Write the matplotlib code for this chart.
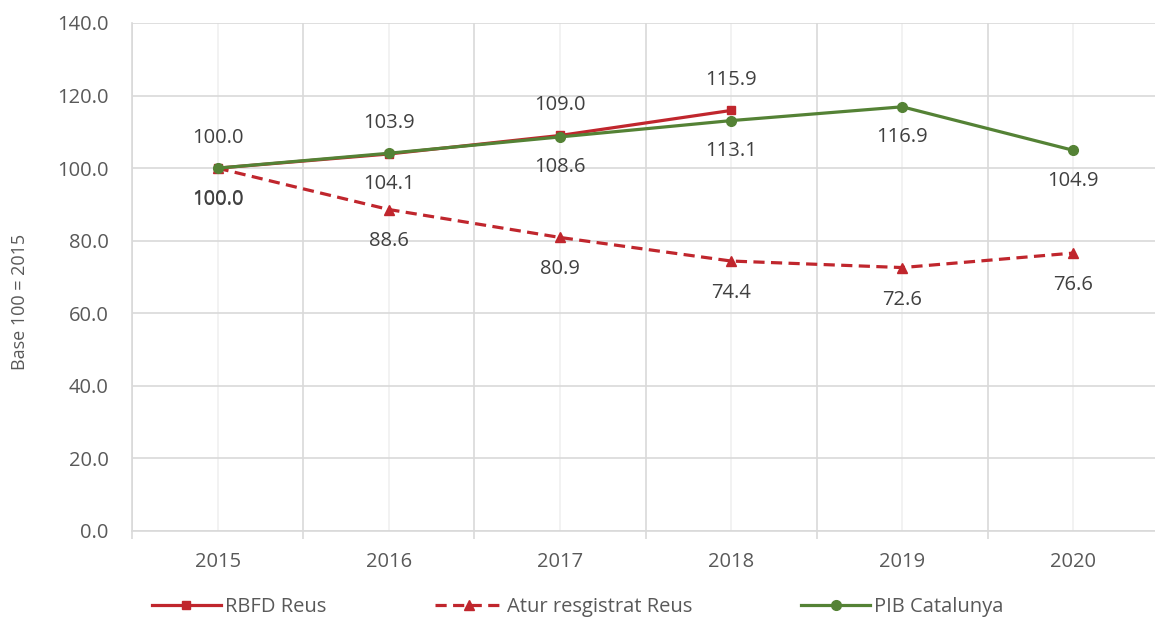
import numpy as np
import matplotlib
matplotlib.use('Agg')
import matplotlib.pyplot as plt

plt.rcParams['font.family'] = ['Open Sans', 'DejaVu Sans']

# data
years = ['2015', '2016', '2017', '2018', '2019', '2020']
rbfd = [100.0, 103.9, 109.0, 115.9]
atur = [100.0, 88.6, 80.9, 74.4, 72.6, 76.6]
pib = [100.0, 104.1, 108.6, 113.1, 116.9, 104.9]

red = '#C0262D'
green = '#548235'
txt = '#595959'

fig = plt.figure(figsize=(11.55, 6.18), dpi=100)
# plot area runs slightly past the right edge of the picture, as in the reference
ax = fig.add_axes([132 / 1155, 87 / 618, 1027 / 1155, 508 / 618])

x_all = np.arange(len(years))
ax.plot(x_all[:len(rbfd)], rbfd, color=red, lw=2.3, marker='s', ms=6,
        label='RBFD Reus', zorder=4)
ax.plot(x_all, atur, color=red, lw=2.3, marker='^', ms=7.5, dashes=(3.5, 2),
        label='Atur resgistrat Reus', zorder=4)
ax.plot(x_all, pib, color=green, lw=2.3, marker='o', ms=7,
        label='PIB Catalunya', zorder=5)

# data labels (2015 labels of Atur and PIB sit on top of each other, as in the original)
for i, v in enumerate(rbfd):
    ax.annotate(f'{v:.1f}', (i, v), xytext=(0, 22), textcoords='offset points',
                ha='center', va='center', fontsize=14.5, color='#404040')
for i, v in enumerate(pib):
    ax.annotate(f'{v:.1f}', (i, v), xytext=(0, -22), textcoords='offset points',
                ha='center', va='center', fontsize=14.5, color='#404040')
for i, v in enumerate(atur):
    ax.annotate(f'{v:.1f}', (i, v), xytext=(0, -23), textcoords='offset points',
                ha='center', va='center', fontsize=14.5, color='#404040')

ax.set_xlim(-0.5, 5.5)
ax.set_ylim(0, 140)
ax.set_yticks(np.arange(0, 141, 20))
ax.set_yticklabels([f'{v:.1f}' for v in np.arange(0, 141, 20)])
ax.tick_params(axis='y', length=0, pad=17, labelsize=14.5, labelcolor=txt)

# boundary ticks + gridlines, labels at category centres
ax.set_xticks(np.arange(-0.5, 6.0, 1.0))
ax.set_xticklabels([])
ax.set_xticks(x_all, minor=True)
ax.set_xticklabels(years, minor=True)
ax.tick_params(axis='x', which='major', length=6, color='#d9d9d9', width=1.2)
ax.tick_params(axis='x', which='minor', length=0, pad=15, labelsize=14.5, labelcolor=txt)

ax.grid(axis='y', color='#d9d9d9', lw=1.2)
ax.grid(axis='x', which='major', color='#d9d9d9', lw=1.2)
ax.grid(axis='x', which='minor', color='#f0f0f0', lw=1.2)
ax.set_axisbelow(True)

for s in ['top', 'right']:
    ax.spines[s].set_visible(False)
ax.spines['left'].set_color('#d9d9d9')
ax.spines['bottom'].set_color('#d9d9d9')
ax.spines['left'].set_linewidth(1.2)
ax.spines['bottom'].set_linewidth(1.2)

fig.text(20 / 1155, 1 - 302 / 618, 'Base 100 = 2015', rotation=90,
         ha='center', va='center', fontsize=13, color=txt)

fig.legend(loc='center left', bbox_to_anchor=(134 / 1155, 1 - 607 / 618),
           ncol=3, frameon=False, fontsize=14.5, handlelength=3.4,
           columnspacing=5.4, handletextpad=0.2, labelcolor=txt)

fig.savefig('out.png', dpi=100)
